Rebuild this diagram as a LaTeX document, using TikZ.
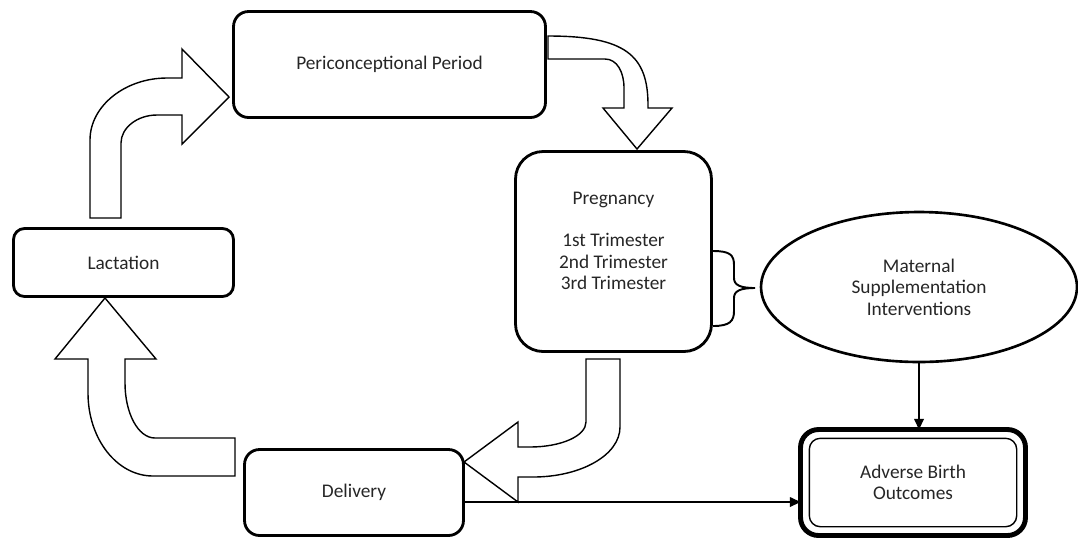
\documentclass[tikz,border=0pt]{standalone}
\usepackage{fontspec}
\setmainfont{Carlito}
\usetikzlibrary{shapes.geometric}
\usetikzlibrary{arrows.meta}

\begin{document}
\begin{tikzpicture}[x=0.02cm,y=-0.02cm,inner sep=0pt,outer sep=0pt,
font=\fontsize{11}{12.2}\selectfont,
stage/.style={draw,rectangle,rounded corners=0.3cm,line width=1.6pt,align=center,text=black!85},
bigarrow/.style={draw,line width=0.8pt,fill=white},
conn/.style={line width=0.7pt,-{Triangle[length=6pt,width=5.5pt]}}]

\useasboundingbox (0,0) rectangle (1078,539);

% the cycle
\node[stage,minimum width=6.24cm,minimum height=2.12cm] (peri) at (389.5,64.5) {Periconceptional Period};
\node[stage,minimum width=3.92cm,minimum height=4cm,rounded corners=0.55cm] (preg) at (613.5,251.5)
  {Pregnancy\\[12.2pt]1st Trimester\\2nd Trimester\\3rd Trimester\\\mbox{}};
\node[stage,minimum width=4.38cm,minimum height=1.72cm] (deliv) at (354,492.5) {Delivery};
\node[stage,minimum width=4.4cm,minimum height=1.36cm,rounded corners=0.22cm] (lact) at (123.5,262.5) {Lactation};

% interventions and outcomes
\node[draw,ellipse,line width=1.5pt,minimum width=6.32cm,minimum height=3cm,align=center,text=black!85] (matern) at (919,287)
  {Maternal\\Supplementation\\Interventions};
\node[stage,line width=2.8pt,minimum width=4.5cm,minimum height=2.12cm,rounded corners=0.36cm] (adverse) at (913,482.5)
  {Adverse Birth\\Outcomes};
\draw[line width=0.8pt,rounded corners=0.22cm] ([shift={(5pt,-5pt)}]adverse.north west) rectangle ([shift={(-5pt,5pt)}]adverse.south east);

% block arrows
\draw[bigarrow] (90,218) -- (90,140) .. controls (90,106) and (125,78) .. (167,78) -- (182,78) -- (182,49) -- (229,97)
  -- (182,144) -- (182,115) -- (157,115) .. controls (137,115) and (121,128) .. (121,143) -- (121,218) -- cycle;
\draw[bigarrow] (548,36) .. controls (625,36) and (648,55) .. (648,105) -- (648,108) -- (672,108) -- (637,149)
  -- (603,108) -- (624,108) -- (624,88) .. controls (624,72) and (617,59) .. (605,59) -- (548,59) -- cycle;
\draw[bigarrow] (586,359) -- (620,359) -- (620,427) .. controls (620,455) and (581,477) .. (533,477) -- (518,477)
  -- (518,502) -- (464,462) -- (518,422) -- (518,447) -- (530,447) .. controls (561,447) and (586,436) .. (586,422) -- cycle;
\draw[bigarrow] (235,438) -- (155,438) .. controls (138,438) and (125,413) .. (125,383) -- (125,359) -- (156,359)
  -- (105,298) -- (55,359) -- (88,359) -- (88,393) .. controls (88,439) and (117,476) .. (153,476) -- (235,476) -- cycle;

% brace
\draw[line width=1.1pt] (713,251) .. controls (730,251) and (734,255) .. (734,265) -- (734,278)
  .. controls (734,285) and (740,288) .. (755,288) .. controls (740,288) and (734,291) .. (734,298)
  -- (734,311) .. controls (734,321) and (730,326) .. (713,326);

% connectors
\coordinate (dl) at (deliv.east |- 0,502);
\draw[conn] (dl) -- (dl -| adverse.west);
\draw[conn] (matern.south) -- (matern.south |- adverse.north);
\end{tikzpicture}
\end{document}
